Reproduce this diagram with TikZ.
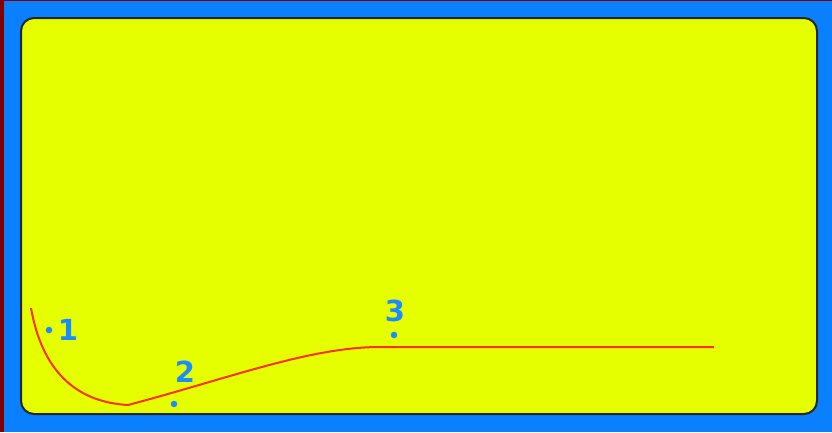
\documentclass[tikz,border=0pt]{standalone}
\usepackage{fontspec}
\setmainfont{DejaVu Sans}
\usetikzlibrary{shapes.geometric}
\definecolor{bgblue}{HTML}{0A80FF}
\definecolor{panel}{HTML}{E5FF00}
\definecolor{curvered}{HTML}{FF3010}
\definecolor{edge}{HTML}{800000}
\definecolor{lblblue}{HTML}{1A8CFF}
\begin{document}
\begin{tikzpicture}[x=1pt,y=-1pt,
  dot/.style={fill=lblblue,draw=none,circle,inner sep=0pt,minimum size=6.5pt},
  lbl/.style={text=lblblue,font=\fontsize{29}{31}\selectfont\bfseries,inner sep=0pt}]
\useasboundingbox (0,0) rectangle (832,432);
\fill[bgblue] (0,0) rectangle (832,432);
\fill[edge] (0,0) rectangle (3.5,432);
\fill[edge] (0,0) rectangle (832,1);
\draw[fill=panel,draw=black!85,line width=2pt,rounded corners=13pt] (21,18) rectangle (817,414);
% curve
\coordinate (c0) at (31,308);
\coordinate (c1) at (128,405);
\coordinate (c2) at (380,347);
\coordinate (c3) at (714,347);
\draw[curvered,line width=2pt] (c0) .. controls (42,370) and (75,402) .. (c1)
  .. controls (230,378) and (310,347) .. (c2) -- (c3);
% points
\node[dot] (p1) at (49,330) {};
\node[dot] (p2) at (174,404) {};
\node[dot] (p3) at (394,335) {};
\node[lbl] (l1) at (68,330) {1};
\node[lbl] (l2) at (185,372) {2};
\node[lbl] (l3) at (395,311) {3};
\end{tikzpicture}
\end{document}
